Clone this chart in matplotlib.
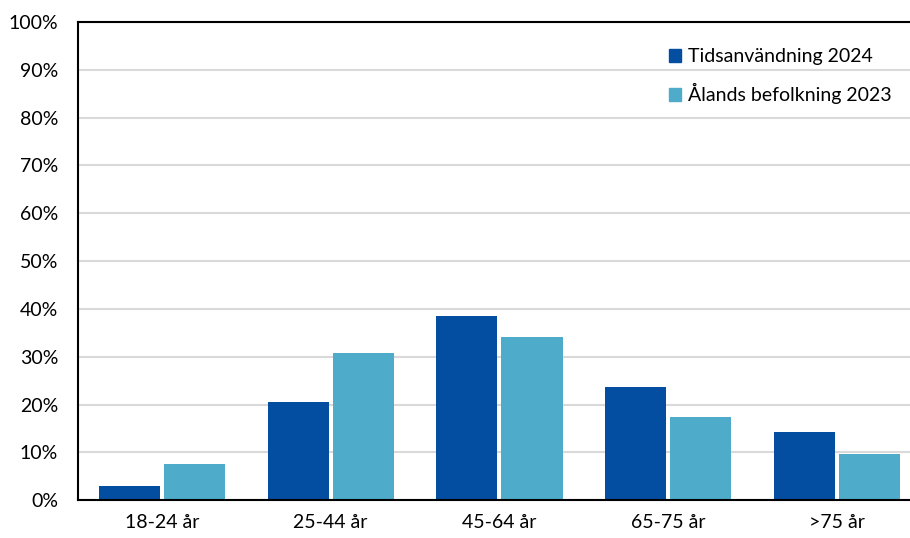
import matplotlib.pyplot as plt
import numpy as np
from matplotlib.patches import Patch
from matplotlib.ticker import PercentFormatter


CATEGORIES = ["18-24 år", "25-44 år", "45-64 år", "65-75 år", ">75 år"]
TIDSANVANDNING_2024 = [2.9, 20.5, 38.6, 23.6, 14.3]
BEFOLKNING_2023 = [7.6, 30.8, 34.1, 17.5, 9.6]
SERIES_LABELS = ["Tidsanvändning 2024", "Ålands befolkning 2023"]

DARK = "#044EA2"
LIGHT = "#4EABCA"

plt.rcParams["font.family"] = ["Lato", "DejaVu Sans"]

fig = plt.figure(figsize=(9.1, 5.38), dpi=100)
# the reference is cropped on the right, so the axes run past the figure edge
ax = fig.add_axes([0.0852, 0.0701, 0.9273, 0.889])

x = np.arange(len(CATEGORIES))
width = 0.362
offset = 0.193
ax.bar(x - offset, TIDSANVANDNING_2024, width, color=DARK, zorder=2)
ax.bar(x + offset, BEFOLKNING_2023, width, color=LIGHT, zorder=2)

ax.set_xlim(-0.5, len(CATEGORIES) - 0.5)
ax.set_ylim(0, 100)
ax.set_yticks(np.arange(0, 101, 10))
ax.yaxis.set_major_formatter(PercentFormatter(decimals=0))
ax.set_xticks(x)
ax.set_xticklabels(CATEGORIES)

ax.grid(axis="y", color="#d9d9d9", linewidth=1.5, zorder=0)
ax.set_axisbelow(True)
ax.tick_params(axis="y", length=0, pad=14, labelsize=14, colors="#000000")
ax.tick_params(axis="x", length=0, pad=10, labelsize=14, colors="#000000")

for side in ["left", "bottom", "top"]:
    ax.spines[side].set_color("black")
    ax.spines[side].set_linewidth(1.5)
ax.spines["right"].set_visible(False)

handles = [Patch(color=DARK), Patch(color=LIGHT)]
fig.legend(
    handles,
    SERIES_LABELS,
    loc="upper left",
    bbox_to_anchor=(0.724, 0.929),
    frameon=False,
    fontsize=14,
    handlelength=0.65,
    handleheight=0.65,
    handletextpad=0.35,
    labelspacing=0.95,
    borderpad=0,
)

fig.savefig("out.png", dpi=100)
